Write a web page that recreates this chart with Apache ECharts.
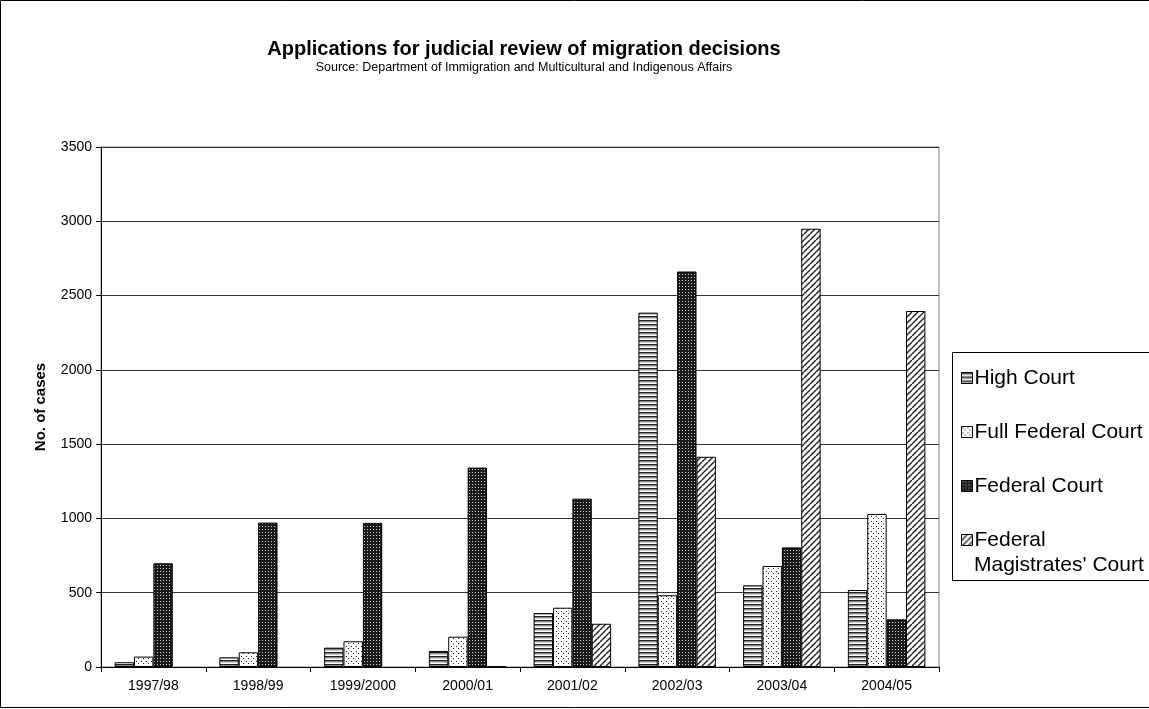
<!DOCTYPE html>
<html>
<head>
<meta charset="utf-8">
<script src="https://cdn.jsdelivr.net/npm/echarts@6/dist/echarts.min.js"></script>
<style>
  html, body { margin: 0; padding: 0; background: #fff; }
  #chart { width: 1149px; height: 709px; }
</style>
</head>
<body>
<div id="chart"></div>
<script>
const years = ['1997/98', '1998/99', '1999/2000', '2000/01', '2001/02', '2002/03', '2003/04', '2004/05']
const highCourt = [32, 65, 130, 108, 363, 2385, 550, 518]
const fullFederalCourt = [70, 99, 173, 204, 399, 483, 680, 1030]
const federalCourt = [698, 972, 970, 1342, 1133, 2662, 805, 321]
// the Federal Magistrates' Court had no applications before 2000/01
const magistratesCourt = [null, null, null, 5, 291, 1415, 2950, 2396]
const yTicks = [0, 500, 1000, 1500, 2000, 2500, 3000, 3500]

// small canvas tiles used as fill patterns
const tile = (w, h, draw) => {
  const c = document.createElement('canvas')
  c.width = w
  c.height = h
  const ctx = c.getContext('2d')
  ctx.fillStyle = '#fff'
  ctx.fillRect(0, 0, w, h)
  draw(ctx)
  return { image: c, repeat: 'repeat' }
}

const stripes = tile(1, 4, ctx => {
  ctx.fillStyle = '#222'; ctx.fillRect(0, 0, 1, 1)
  ctx.fillStyle = '#888'; ctx.fillRect(0, 1, 1, 1)
  ctx.fillStyle = '#ccc'; ctx.fillRect(0, 2, 1, 1)
})
const dots = tile(5, 5, ctx => {
  ctx.fillStyle = '#222'
  ctx.fillRect(1, 1, 1, 1)
  ctx.fillRect(3, 3, 1, 1)
})
const darkDots = tile(3, 3, ctx => {
  ctx.fillStyle = '#1a1a1a'; ctx.fillRect(0, 0, 3, 3)
  ctx.fillStyle = '#d0d0d0'; ctx.fillRect(1, 1, 1, 1)
})
const diagonal = tile(6, 6, ctx => {
  ctx.strokeStyle = '#222'
  ctx.lineWidth = 1.4
  for (let k = -6; k <= 12; k += 6) {
    ctx.beginPath()
    ctx.moveTo(k, 6)
    ctx.lineTo(k + 6, 0)
    ctx.stroke()
  }
})

const names = ['High Court', 'Full Federal Court', 'Federal Court', "Federal Magistrates' Court"]
const values = [highCourt, fullFederalCourt, federalCourt, magistratesCourt]
const fills = [stripes, dots, darkDots, diagonal]

const font = 'Liberation Sans, Arial, sans-serif'

const legendBase = {
  orient: 'vertical',
  left: 961,
  itemWidth: 11,
  itemHeight: 11,
  itemGap: 30,
  padding: 0,
  icon: 'rect',
  itemStyle: { borderColor: '#000', borderWidth: 1 },
  textStyle: { fontSize: 21, lineHeight: 24, color: '#000', fontFamily: font, padding: [0, 0, 0, -3] }
}

const chart = echarts.init(document.getElementById('chart'))
chart.setOption({
  animation: false,
  textStyle: { fontFamily: font },
  title: {
    text: 'Applications for judicial review of migration decisions',
    subtext: 'Source: Department of Immigration and Multicultural and Indigenous Affairs',
    left: 519,
    textAlign: 'center',
    top: 34,
    itemGap: 2,
    textStyle: { fontSize: 20, fontWeight: 'bold', color: '#000', fontFamily: font },
    subtextStyle: { fontSize: 12.5, color: '#000', fontFamily: font }
  },
  graphic: [{
    type: 'rect',
    shape: { x: 0.5, y: 0.5, width: 1300, height: 707 },
    style: { fill: 'none', stroke: '#000', lineWidth: 1 },
    silent: true
  }, {
    // legend frame
    type: 'rect',
    shape: { x: 952.5, y: 352.5, width: 300, height: 228 },
    style: { fill: 'none', stroke: '#000', lineWidth: 1 },
    silent: true
  }, {
    // second line of the last legend entry
    type: 'text',
    left: 974,
    top: 555,
    style: { text: "Magistrates' Court", font: '21px ' + font, fill: '#000' },
    silent: true
  }],
  legend: [
    Object.assign({}, legendBase, { top: 366, data: names.slice(0, 3) }),
    Object.assign({}, legendBase, {
      top: 528,
      data: [names[3]],
      formatter: () => 'Federal'
    })
  ],
  grid: {
    left: 101,
    right: 210,
    top: 147,
    bottom: 42,
    show: true,
    borderColor: '#808080',
    borderWidth: 1
  },
  xAxis: {
    type: 'category',
    data: years,
    axisLine: { lineStyle: { color: '#000' } },
    axisTick: { show: true, length: 5, lineStyle: { color: '#000' } },
    axisLabel: { color: '#000', fontSize: 14, margin: 12, fontFamily: font }
  },
  yAxis: {
    type: 'value',
    min: yTicks[0],
    max: yTicks[yTicks.length - 1],
    interval: 500,
    name: 'No. of cases',
    nameLocation: 'middle',
    nameGap: 53,
    nameTextStyle: { fontSize: 15, fontWeight: 'bold', color: '#000', fontFamily: font },
    axisLine: { show: true, lineStyle: { color: '#000' } },
    axisTick: { show: true, length: 5, lineStyle: { color: '#000' } },
    axisLabel: { color: '#000', fontSize: 14, margin: 9, fontFamily: font, formatter: v => String(v) },
    splitLine: { lineStyle: { color: '#333', width: 1 } }
  },
  series: names.map((name, i) => ({
    name,
    type: 'bar',
    data: values[i],
    barGap: '0%',
    barCategoryGap: '26%',
    itemStyle: { color: fills[i], borderColor: '#000', borderWidth: 1 }
  }))
})
</script>
</body>
</html>
